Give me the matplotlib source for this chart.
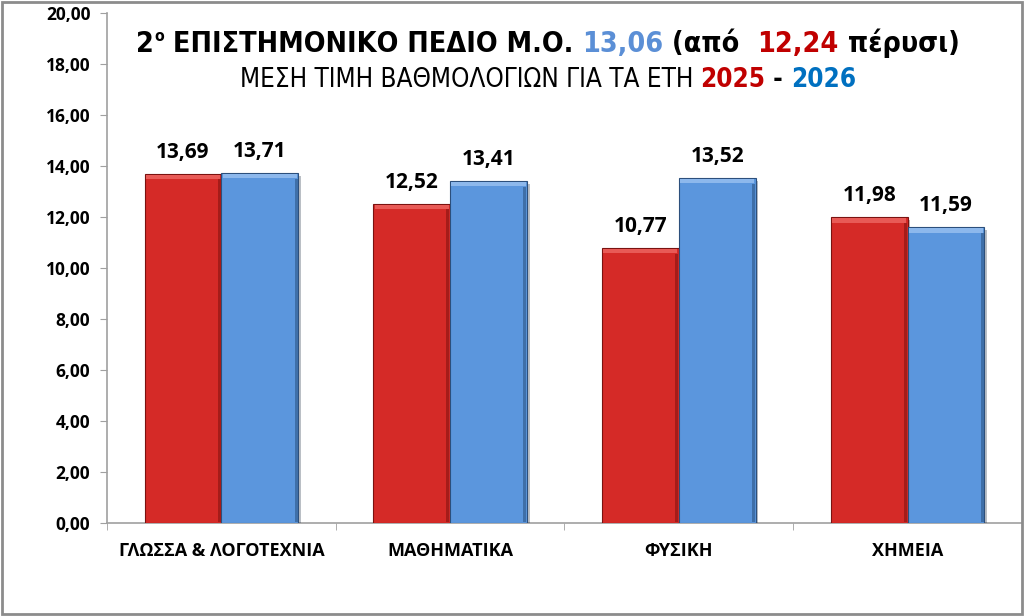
import matplotlib
matplotlib.use("Agg")
import matplotlib.pyplot as plt
import matplotlib.patheffects as pe
from matplotlib.patches import Rectangle
import numpy as np

# data
subjects = ["ΓΛΩΣΣΑ & ΛΟΓΟΤΕΧΝΙΑ", "ΜΑΘΗΜΑΤΙΚΑ", "ΦΥΣΙΚΗ", "ΧΗΜΕΙΑ"]
scores_2025 = [13.69, 12.52, 10.77, 11.98]
scores_2026 = [13.71, 13.41, 13.52, 11.59]
yticks = [0, 2, 4, 6, 8, 10, 12, 14, 16, 18, 20]

red = "#D52A27"
blue = "#5B96DD"
lab_font = ["Open Sans", "DejaVu Sans"]
title_font = ["DejaVu Sans"]

fig = plt.figure(figsize=(10.24, 6.16), dpi=100)
ax = fig.add_axes([0.1045, 0.151, 0.8935, 0.828])

x = np.arange(len(subjects))
w = 0.336
shadow = [pe.SimplePatchShadow(offset=(2, -2), alpha=0.3), pe.Normal()]
b1 = ax.bar(x - w / 2, scores_2025, w, color=red, edgecolor="#7a1210", linewidth=0.8, zorder=3)
b2 = ax.bar(x + w / 2, scores_2026, w, color=blue, edgecolor="#2c4f7c", linewidth=0.8, zorder=3)

# bevel: light strip on top, dark strip on the right edge
for bars, hl, dk in ((b1, "#e85a56", "#a51c19"), (b2, "#8db8ec", "#3f6fa8")):
    for r in bars:
        r.set_path_effects(shadow)
        ax.add_patch(Rectangle((r.get_x() + 0.006, r.get_height() - 0.2), r.get_width() - 0.012, 0.16,
                               color=hl, zorder=4, lw=0))
        ax.add_patch(Rectangle((r.get_x() + r.get_width() - 0.016, 0.04), 0.013, r.get_height() - 0.26,
                               color=dk, zorder=4, lw=0))

for bars, vals in ((b1, scores_2025), (b2, scores_2026)):
    for r, v in zip(bars, vals):
        ax.annotate(f"{v:.2f}".replace(".", ","), (r.get_x() + r.get_width() / 2, v),
                    xytext=(0, 8), textcoords="offset points", ha="center", va="bottom",
                    fontsize=15, fontweight="bold", family=lab_font, zorder=5)

ax.set_xlim(-0.5, len(subjects) - 0.5)
ax.set_ylim(0, 20)
ax.set_yticks(yticks)
ax.set_yticklabels([f"{t:.2f}".replace(".", ",") for t in yticks], fontsize=12.5,
                   fontweight="bold", family=lab_font)
ax.set_xticks(x)
ax.set_xticklabels(subjects, fontsize=13, fontweight="bold", family=lab_font)
ax.tick_params(axis="x", length=0, pad=14)
ax.set_xticks(np.arange(len(subjects) + 1) - 0.5, minor=True)
ax.tick_params(axis="x", which="minor", length=5, color="#a0a0a0")
ax.tick_params(axis="y", length=5, color="#a0a0a0", pad=7)
for s in ["top", "right"]:
    ax.spines[s].set_visible(False)
for s in ["left", "bottom"]:
    ax.spines[s].set_color("#a0a0a0")
    ax.spines[s].set_linewidth(1.2)


def colored_line(pieces, baseline_px, target_w, base_size):
    # row of differently coloured text pieces, centred, scaled to a target width
    fig.canvas.draw()
    rend = fig.canvas.get_renderer()
    texts = []
    for s, c, rel, dy, bold in pieces:
        t = fig.text(0, 0, s, color=c, fontsize=rel * base_size, fontweight="bold" if bold else "normal",
                     family=title_font, fontstretch="condensed", va="baseline")
        texts.append((t, rel, dy))
    total = sum(t.get_window_extent(rend).width for t, _, _ in texts)
    size = base_size * target_w / total
    widths = []
    for t, rel, dy in texts:
        t.set_fontsize(rel * size)
        widths.append(t.get_window_extent(rend).width)
    xpos = 548 - sum(widths) / 2
    for (t, rel, dy), wd in zip(texts, widths):
        t.set_position((xpos / 1024, 1 - (baseline_px - dy * size) / 616))
        xpos += wd


colored_line([("2", "black", 1, 0, True), ("ο", "black", 0.55, 0.55, True),
              (" ΕΠΙΣΤΗΜΟΝΙΚΟ ΠΕΔΙΟ Μ.Ο. ", "black", 1, 0, True),
              ("13,06", "#5B8FD6", 1, 0, True), (" (από  ", "black", 1, 0, True),
              ("12,24", "#C00000", 1, 0, True), (" πέρυσι)", "black", 1, 0, True)],
             52, 824, 28)
colored_line([("ΜΕΣΗ ΤΙΜΗ ΒΑΘΜΟΛΟΓΙΩΝ ΓΙΑ ΤΑ ΕΤΗ ", "black", 1, 0, False),
              ("2025", "#C00000", 1, 0, True), (" - ", "black", 1, 0, True),
              ("2026", "#0070C0", 1, 0, True)],
             87, 619, 20)

fig.patches.append(Rectangle((0.002, 0.003), 0.996, 0.994, transform=fig.transFigure,
                             fill=False, edgecolor="#8c8c8c", linewidth=2))

fig.savefig("out.png", dpi=100)
